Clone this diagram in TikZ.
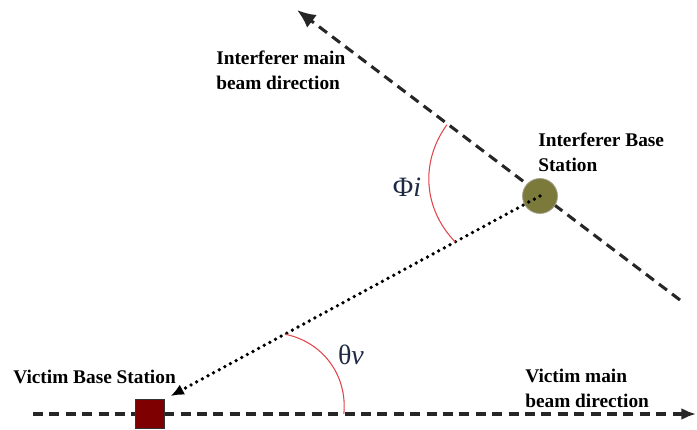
\documentclass[tikz,border=0pt]{standalone}
\usepackage{fontspec}
\setmainfont{Liberation Serif}
\usetikzlibrary{arrows.meta,calc}
\definecolor{vbsred}{HTML}{7F0000}
\definecolor{ibsolive}{HTML}{7C7A3B}
\definecolor{ibsedge}{HTML}{A3A38F}
\definecolor{anglered}{HTML}{E0474C}
\definecolor{anglelabel}{HTML}{1E2A44}

\begin{document}
\begin{tikzpicture}[
  x=0.75pt, y=0.75pt,
  every node/.style={font=\bfseries\fontsize{14.5}{18.75}\selectfont, align=left, inner sep=0pt},
  beam/.style={line width=2.3pt, dash pattern=on 7.5pt off 4.8pt, draw=black!85},
  link/.style={line width=2.8pt, line cap=round, dash pattern=on 0pt off 4.8pt, draw=black},
  victimbox/.style={draw=black!80, fill=vbsred, minimum size=21.75pt, line width=0.5pt},
  interfbox/.style={circle, draw=ibsedge, fill=ibsolive, minimum size=26.25pt, line width=0.6pt},
  anglearc/.style={draw=anglered, line width=0.8pt},
  anglename/.style={font=\fontsize{21}{24}\selectfont, text=anglelabel}
]
\useasboundingbox (0,0) rectangle (697,429);

% beams first, stations on top
\coordinate (vbeamstart) at (33,15);
\coordinate (vbeamend) at (696,15);
\coordinate (ibeamstart) at (680,129);
\coordinate (ibeamend) at (297,419);
\draw[beam, -{Latex[length=11pt, width=9pt]}] (vbeamstart) -- (vbeamend);
\draw[beam, -{Latex[length=14pt, width=12pt]}] (ibeamstart) -- (ibeamend);

\node[victimbox] (victim) at (150,15) {};
\node[interfbox] (interferer) at (540,233) {};

\draw[link, -{Latex[length=10pt, width=8.5pt]}, shorten >=4.9pt] (interferer.center) -- (victim.north east);

% angles
\coordinate (phitop) at ($(interferer)!0.383!(ibeamend)$);
\coordinate (phibot) at ($(interferer.center)!0.226!(victim.north east)$);
\coordinate (thetatop) at ($(interferer.center)!0.68!(victim.north east)$);
\coordinate (thetabot) at ($(victim)!0.355!(vbeamend)$);
\draw[anglearc] (phitop) to[bend right=40] (phibot);
\draw[anglearc] (thetatop) to[bend left=42] (thetabot);
\node[anglename] (phi) at (407,242) {Φ\textit{i}};
\node[anglename] (theta) at (351,74) {θ\textit{v}};

% labels
\node[anchor=west] (ibeamlabel) at (216,359) {Interferer main\\beam direction};
\node[anchor=west] (ibslabel) at (538,277) {Interferer Base\\Station};
\node[anchor=west] (vbslabel) at (13,52) {Victim Base Station};
\node[anchor=west] (vbeamlabel) at (525,41) {Victim main\\beam direction};
\end{tikzpicture}
\end{document}
